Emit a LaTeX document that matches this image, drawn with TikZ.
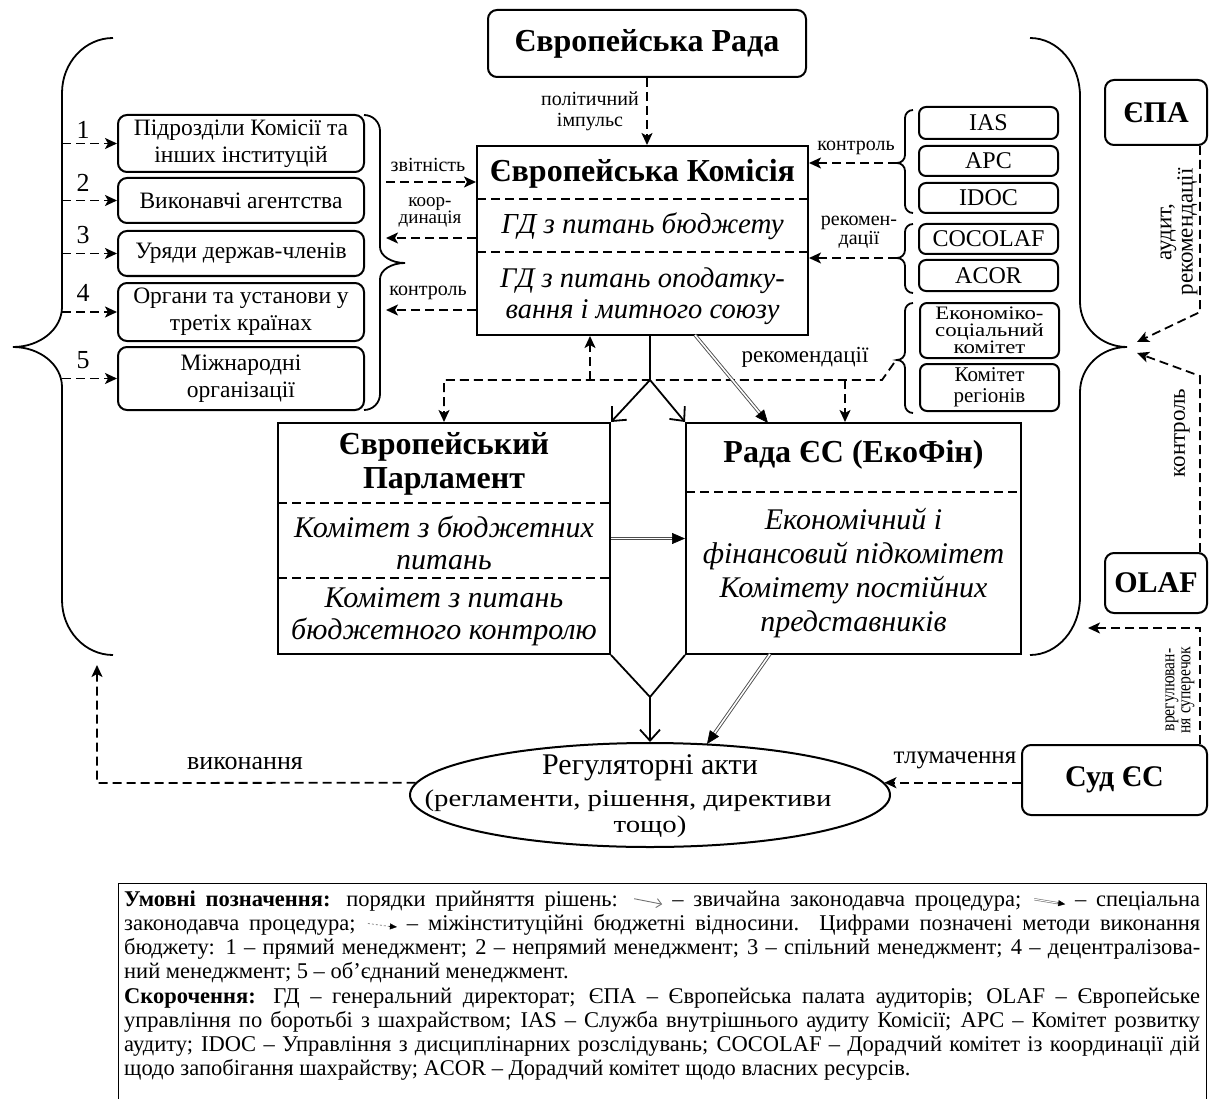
\documentclass[tikz,border=0pt]{standalone}
\usepackage{fontspec}
\setmainfont{Liberation Serif}
\newfontfamily\cond[FakeStretch=0.82]{Liberation Serif}
\newfontfamily\wide[FakeStretch=1.2]{Liberation Serif}
\usetikzlibrary{arrows.meta,shapes.geometric,calc}
\newcommand{\myfs}[2]{\fontsize{#1}{#2}\selectfont}
\newcommand{\mybrace}[8]{%
  \draw[brc] (#1,#4) .. controls ({#1-0.552*(#1-#2)},#4) and (#2,{#4+0.448*#7}) .. (#2,{#4+#7})
   -- (#2,{#5-#8}) .. controls (#2,{#5-0.448*#8}) and ({#3+0.552*(#2-#3)},#5) .. (#3,#5)
   .. controls ({#3+0.552*(#2-#3)},#5) and (#2,{#5+0.448*#8}) .. (#2,{#5+#8})
   -- (#2,{#6-#7}) .. controls (#2,{#6-0.448*#7}) and ({#1-0.552*(#1-#2)},#6) .. (#1,#6);}
\newcommand{\dblarr}[2]{%
  \draw[dblshaft, shorten >=11pt] (#1) -- (#2);
  \draw[line width=0.6pt, -{Triangle[length=13pt,width=11pt]}] ($(#2)!13pt!(#1)$) -- (#2);}
\newcommand{\icA}{\tikz[baseline=-0.5ex]{\draw[black!55, line width=0.9pt, -{Straight Barb[length=5pt,width=9pt]}] (0pt,2.5pt) -- (28pt,-3pt);}}
\newcommand{\icB}{\tikz[baseline=-0.5ex]{\draw[black!55, line width=0.6pt, double=white, double distance=1pt] (0pt,2pt) -- (24pt,-2pt); \draw[line width=0.4pt, -{Triangle[length=7pt,width=6pt]}] (23pt,-1.8pt) -- (31pt,-3pt);}}
\newcommand{\icC}{\tikz[baseline=-0.5ex]{\draw[black!45, line width=0.8pt, dash pattern=on 2pt off 2pt] (0pt,2pt) -- (22pt,-1pt); \draw[line width=0.4pt, -{Triangle[length=7pt,width=6pt]}] (21pt,-0.9pt) -- (29pt,-1.5pt);}}
\begin{document}
\begin{tikzpicture}[x=1pt,y=-1pt,
  box/.style={draw, line width=2pt, inner sep=0pt},
  rbox/.style={box, rounded corners=9pt},
  ttl/.style={font=\myfs{32}{34}\bfseries, align=center, inner sep=0pt},
  itl/.style={font=\myfs{29}{32}\itshape, align=center, inner sep=0pt},
  lbl/.style={font=\myfs{20}{21}, align=center, inner sep=0pt},
  txt/.style={font=\myfs{23.5}{27}, align=center},
  sepl/.style={line width=1.8pt, dash pattern=on 9pt off 5pt},
  dsh/.style={line width=1.8pt, dash pattern=on 9pt off 5pt, -{Stealth[length=12pt,width=11pt,inset=3pt]}},
  sol/.style={line width=1.8pt, -{Straight Barb[length=11pt,width=20pt]}},
  brc/.style={line width=1.8pt},
  dblshaft/.style={draw=black!70, line width=0.9pt, double=white, double distance=1.6pt},
  lgl/.style={anchor=west, inner sep=0pt, font=\myfs{22.5}{24}},
]
\fill[white] (0,0) rectangle (1212,1099);
\useasboundingbox (0,0) rectangle (1212,1099);

% ---------- nodes ----------
\node[rbox, ttl, minimum width=318pt, minimum height=67pt] (er) at (647,43.5) {Європейська Рада};

\node[box, minimum width=331pt, minimum height=189pt] (ec) at (642.5,240.5) {};
\node[ttl] (ect) at (642.5,174) {Європейська Комісія};
\draw[sepl] (477,199) -- (808,199);
\node[itl] (ec1) at (642.5,226) {ГД з питань бюджету};
\draw[sepl] (477,252) -- (808,252);
\node[itl, font=\myfs{28.5}{31}\itshape] (ec2) at (642.5,296) {ГД з питань оподатку-\\вання і митного союзу};

\node[rbox, txt, minimum width=246pt, minimum height=57pt] (b1) at (241,143.5) {Підрозділи Комісії та\\інших інституцій};
\node[rbox, txt, minimum width=246pt, minimum height=45pt] (b2) at (241,200.5) {Виконавчі агентства};
\node[rbox, txt, minimum width=246pt, minimum height=45pt] (b3) at (241,253.5) {Уряди держав-членів};
\node[rbox, txt, minimum width=246pt, minimum height=58pt] (b4) at (241,312) {Органи та установи у\\третіх країнах};
\node[rbox, txt, minimum width=246pt, minimum height=63pt] (b5) at (241,378.5) {Міжнародні\\організації};

\node[font=\myfs{26}{26}] (n1) at (83,130) {1};
\node[font=\myfs{26}{26}] (n2) at (83,183) {2};
\node[font=\myfs{26}{26}] (n3) at (83,235) {3};
\node[font=\myfs{26}{26}] (n4) at (83,293) {4};
\node[font=\myfs{26}{26}] (n5) at (83,360) {5};

\node[rbox, txt, font=\myfs{24}{24}, rounded corners=7pt, minimum width=139pt, minimum height=32pt] (ias) at (988.5,123) {IAS};
\node[rbox, txt, font=\myfs{24}{24}, rounded corners=7pt, minimum width=139pt, minimum height=30pt] (apc) at (988.5,161) {APC};
\node[rbox, txt, font=\myfs{24}{24}, rounded corners=7pt, minimum width=139pt, minimum height=30pt] (idoc) at (988.5,198) {IDOC};
\node[rbox, txt, font=\myfs{24}{24}, rounded corners=7pt, minimum width=139pt, minimum height=30pt] (cocolaf) at (988.5,239) {COCOLAF};
\node[rbox, txt, font=\myfs{24}{24}, rounded corners=7pt, minimum width=139pt, minimum height=31pt] (acor) at (988.5,275.5) {ACOR};
\node[rbox, txt, rounded corners=7pt, font=\wide\myfs{19}{17}, minimum width=139pt, minimum height=55pt] (esc) at (989.5,330.5) {Економіко-\\соціальний\\комітет};
\node[rbox, txt, rounded corners=7pt, font=\myfs{21}{21}, minimum width=139pt, minimum height=47pt] (cor) at (989.5,387.5) {Комітет\\регіонів};

\node[box, minimum width=332pt, minimum height=231pt] (ep) at (444,538.5) {};
\node[ttl] (ept) at (444,464) {Європейський\\Парламент};
\draw[sepl] (278,503) -- (610,503);
\node[itl, font=\myfs{30}{32}\itshape] (ep1) at (444,543) {Комітет з бюджетних\\питань};
\draw[sepl] (278,578) -- (610,578);
\node[itl, font=\myfs{30}{32}\itshape] (ep2) at (444,617) {Комітет з питань\\бюджетного контролю};

\node[box, minimum width=335pt, minimum height=231pt] (cu) at (853.5,538.5) {};
\node[ttl] (cut) at (853.5,455) {Рада ЄС (ЕкоФін)};
\draw[sepl] (686,492) -- (1021,492);
\node[itl, font=\myfs{30}{34}\itshape] (cu1) at (853.5,573) {Економічний і\\фінансовий підкомітет\\Комітету постійних\\представників};

\node[draw, ellipse, line width=2pt, minimum width=480pt, minimum height=104pt, inner sep=0pt] (ell) at (650,795) {};
\node[font=\myfs{30}{30}] (el1) at (650,768) {Регуляторні акти};
\node[font=\wide\myfs{24}{24}] (el2) at (628,801) {(регламенти, рішення, директиви};
\node[font=\wide\myfs{24}{24}] (el3) at (650,827) {тощо)};

\node[rbox, ttl, font=\myfs{30}{30}\bfseries, minimum width=102pt, minimum height=65pt] (epa) at (1156,112.5) {ЄПА};
\node[rbox, ttl, font=\myfs{30}{30}\bfseries, minimum width=102pt, minimum height=60pt] (olaf) at (1156,583) {OLAF};
\node[rbox, ttl, font=\myfs{30}{30}\bfseries, minimum width=185pt, minimum height=70pt] (sud) at (1114.5,780) {Суд ЄС};

% ---------- braces ----------
\mybrace{113}{62}{13}{38}{347}{655}{55}{40}
\mybrace{364}{380}{405}{115}{263}{410}{16}{16}
\mybrace{913}{905}{897}{110}{163}{213}{8}{8}
\mybrace{913}{905}{897}{224}{258}{293}{8}{8}
\mybrace{913}{905}{897}{303}{360}{413}{8}{8}
\mybrace{1030}{1080}{1127}{38}{347}{655}{58}{45}

% ---------- connectors ----------
\draw[dsh] (er.south) -- (er.south |- ec.north);
\node[lbl] (pi) at (590,111) {політичний\\імпульс};

\coordinate (sp) at (62,0);
\foreach \bx in {b1,b2,b3,b4,b5}{\draw[dsh] (\bx.west -| sp) -- (\bx.west);}

\coordinate (zv) at (386,182);
\draw[dsh] (zv) -- (zv -| ec.west);
\node[lbl] (lzv) at (428,165) {звітність};
\coordinate (kd) at (386,238);
\draw[dsh] (kd -| ec.west) -- (kd);
\node[lbl, font=\myfs{19}{17}] (lkd) at (430,212) {коор-\\динація};
\coordinate (kl) at (386,310);
\draw[dsh] (kl -| ec.west) -- (kl);
\node[lbl] (lkl) at (428,293) {контроль};

\coordinate (t1) at (897,163);
\draw[dsh] (t1) -- (t1 -| ec.east);
\node[lbl] (lt1) at (856,148) {контроль};
\coordinate (t2) at (897,258);
\draw[dsh] (t2) -- (t2 -| ec.east);
\node[lbl, font=\myfs{20}{17}] (lt2) at (859,232) {рекомен-\\дації};
\node[lbl, font=\myfs{23}{23}] (lt3) at (805,357) {рекомендації};
\coordinate (t3) at (894,363);
\coordinate (hr) at (882,380);
\draw[dsh] (t3) -- (hr) -- (hr -| ep.north) -- (ep.north);
\coordinate (up) at (590,380);
\draw[dsh] (up) -- (up |- ec.south);
\coordinate (dn) at (845,380);
\draw[dsh] (dn) -- (dn |- cu.north);

\coordinate (j1) at (650,380);
\draw[line width=1.8pt] (j1 |- ec.south) -- (j1);
\draw[sol] (j1) -- (ep.north east);
\draw[sol] (j1) -- (cu.north west);
\coordinate (d1a) at (695,335);
\coordinate (d1b) at (768,423);
\dblarr{d1a}{d1b}
\dblarr{ep.east}{cu.west}

\coordinate (j2) at (650,697);
\draw[line width=1.8pt] (ep.south east) -- (j2) -- (cu.south west);
\draw[sol] (j2) -- (ell.north);
\coordinate (d2a) at (770,654);
\coordinate (d2b) at (707,744);
\dblarr{d2a}{d2b}

\coordinate (vk) at (97,783);
\coordinate (lbb) at (97,665);
\draw[dsh] (ell.177) -- (vk) -- (lbb);
\node[lbl, font=\myfs{26}{26}] (lvk) at (245,763) {виконання};

\draw[dsh] (sud.west |- ell.3) -- (ell.3);
\node[lbl, font=\myfs{25}{25}] (ltl) at (955,760) {тлумачення};

\coordinate (ra1) at (1200,312);
\coordinate (rtip1) at (1137,342);
\draw[dsh] (ra1 |- epa.south) -- (ra1) -- (rtip1);
\coordinate (ra2) at (1200,376);
\coordinate (rtip2) at (1137,353);
\draw[dsh] (ra2 |- olaf.north) -- (ra2) -- (rtip2);
\coordinate (ra3) at (1200,628);
\coordinate (rbb) at (1088,628);
\draw[dsh] (ra3 |- sud.north) -- (ra3) -- (rbb);

\node[lbl, rotate=90, font=\myfs{23}{18}] (lau) at (1179,232) {аудит,\\рекомендації};
\node[lbl, rotate=90, font=\myfs{23}{23}] (lko) at (1182,433) {контроль};
\node[lbl, rotate=90, font=\cond\myfs{19}{16}] (lvr) at (1180,690) {врегулюван-\\ня суперечок};

% ---------- legend ----------
\node[draw, line width=1.2pt, minimum width=1088pt, minimum height=240pt, anchor=north west, inner sep=0pt] (leg) at (118,883) {};
\node[lgl] (l1) at (124,901) {\makebox[1076pt][s]{{\bfseries Умовні позначення:} порядки прийняття рішень: \icA{} – звичайна законодавча процедура; \icB{} – спеціальна}};
\node[lgl] (l2) at (124,925) {\makebox[1076pt][s]{законодавча процедура; \icC{} – міжінституційні бюджетні відносини. Цифрами позначені методи виконання}};
\node[lgl] (l3) at (124,949) {\makebox[1076pt][s]{бюджету: 1 – прямий менеджмент; 2 – непрямий менеджмент; 3 – спільний менеджмент; 4 – децентралізова-}};
\node[lgl] (l4) at (124,973) {ний менеджмент; 5 – об’єднаний менеджмент.};
\node[lgl] (l5) at (124,998) {\makebox[1076pt][s]{{\bfseries Скорочення:} ГД – генеральний директорат; ЄПА – Європейська палата аудиторів; OLAF – Європейське}};
\node[lgl] (l6) at (124,1022) {\makebox[1076pt][s]{управління по боротьбі з шахрайством; IAS – Служба внутрішнього аудиту Комісії; APC – Комітет розвитку}};
\node[lgl] (l7) at (124,1046) {\makebox[1076pt][s]{аудиту; IDOC – Управління з дисциплінарних розслідувань; COCOLAF – Дорадчий комітет із координації дій}};
\node[lgl] (l8) at (124,1070) {щодо запобігання шахрайству; ACOR – Дорадчий комітет щодо власних ресурсів.};
\end{tikzpicture}
\end{document}
